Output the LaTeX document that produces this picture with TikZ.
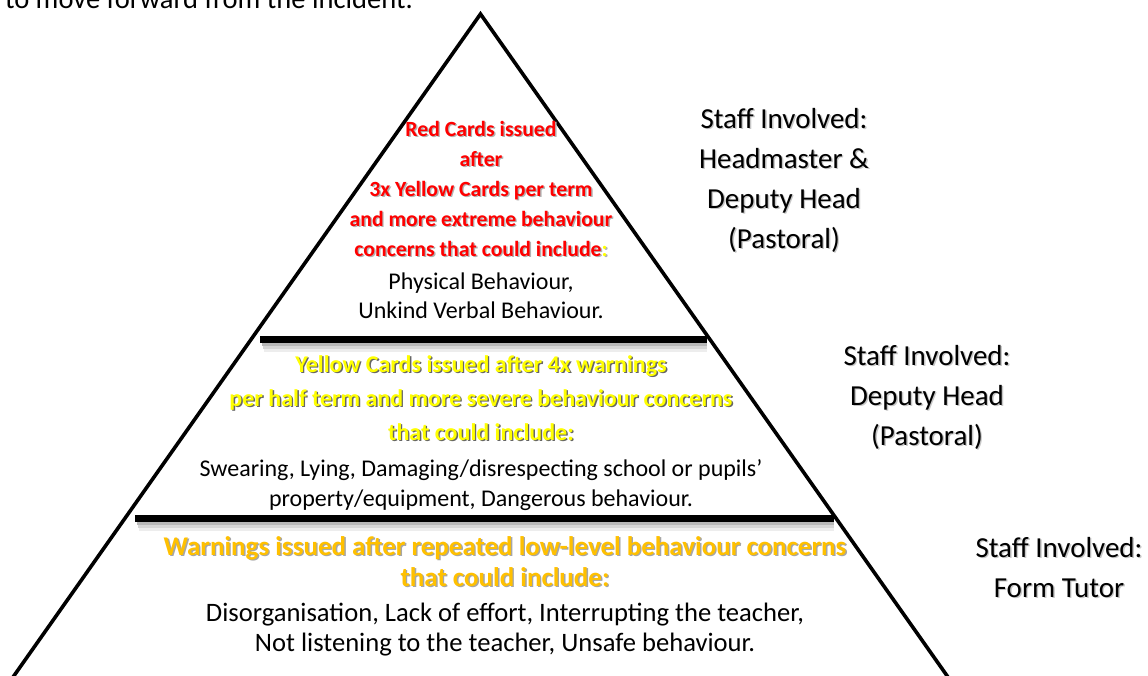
\documentclass[tikz,border=0pt]{standalone}
\usepackage{fontspec}
\setmainfont{Carlito}
\definecolor{cardred}{HTML}{FF0000}
\definecolor{cardyellow}{HTML}{FFFF00}
\definecolor{cardorange}{HTML}{FFC000}
\newcommand\shline[6]{%
  \node[#4, text=#5, xshift=1.4pt, yshift=-1.4pt] (#1s) at (#2,#3) {#6};
  \node[#4] (#1) at (#2,#3) {#6};}
\tikzset{
  ln/.style={inner sep=0pt, anchor=base},
  edge/.style={line width=3.6pt, line join=miter, miter limit=10},
  bar/.style={line width=7pt},
  barshadeA/.style={line width=3pt, draw=black!28},
  barshadeB/.style={line width=3pt, draw=black!16},
  barshadeC/.style={line width=3pt, draw=black!7},
  redb/.style={ln, font=\fontsize{21.7}{26}\selectfont\bfseries, text=cardred},
  yelb/.style={ln, font=\fontsize{24}{28}\selectfont\bfseries, text=cardyellow},
  orab/.style={ln, font=\fontsize{27}{32}\selectfont\bfseries, text=cardorange},
  bodyA/.style={ln, font=\fontsize{24}{28}\selectfont},
  bodyC/.style={ln, font=\fontsize{26.6}{31}\selectfont},
  staff/.style={ln, font=\fontsize{29}{34}\selectfont, text=black},
}
\begin{document}
\begin{tikzpicture}[x=1pt,y=-1pt]
\useasboundingbox (0,0) rectangle (1148,675);
\clip (0,0) rectangle (1148,675);

% cut-off line of the page text above
\node[ln, anchor=base east, font=\fontsize{28.5}{34}\selectfont] (intro) at (413,8) {to move forward from the incident.};

% pyramid
\coordinate (apex) at (480.5,14);
\coordinate (bl) at (1.8,693);
\coordinate (br) at (959.2,693);
\draw[edge] (bl) -- (apex) -- (br);

% dividers with soft shadow
\coordinate (d1l) at (260,339);
\coordinate (d1r) at (707,339);
\coordinate (d2l) at (135,518);
\coordinate (d2r) at (834,518);
\foreach \a/\b in {d1l/d1r, d2l/d2r}{
  \draw[barshadeC] ([xshift=4pt,yshift=-11pt]\a) -- ([yshift=-11pt]\b);
  \draw[barshadeB] ([xshift=3pt,yshift=-8.5pt]\a) -- ([yshift=-8.5pt]\b);
  \draw[barshadeA] ([xshift=2pt,yshift=-5.5pt]\a) -- ([yshift=-5.5pt]\b);
  \draw[bar] (\a) -- (\b);
}

% top tier
\shline{r1}{481}{136}{redb}{black!30}{Red Cards issued}
\shline{r2}{481}{166}{redb}{black!30}{after}
\shline{r3}{481}{196}{redb}{black!30}{3x Yellow Cards per term}
\shline{r4}{481}{226}{redb}{black!30}{and more extreme behaviour}
\node[redb, text=black!30, xshift=1.4pt, yshift=-1.4pt] (r5s) at (481,256) {concerns that could include:};
\node[redb] (r5) at (481,256) {concerns that could include\textcolor{cardyellow}{:}};
\node[bodyA] (t1) at (481,289) {Physical Behaviour,};
\node[bodyA] (t2) at (481,318) {Unkind Verbal Behaviour.};

% middle tier
\shline{y1}{481}{372}{yelb}{black!60}{Yellow Cards issued after 4x warnings}
\shline{y2}{481}{406}{yelb}{black!60}{per half term and more severe behaviour concerns}
\shline{y3}{481}{440}{yelb}{black!60}{that could include:}
\node[bodyA] (m1) at (481,476) {Swearing, Lying, Damaging/disrespecting school or pupils’};
\node[bodyA] (m2) at (481,506) {property/equipment, Dangerous behaviour.};

% bottom tier
\shline{o1}{505}{555}{orab}{black!35}{Warnings issued after repeated low-level behaviour concerns}
\shline{o2}{505}{586}{orab}{black!35}{that could include:}
\node[bodyC] (b1) at (505,621) {Disorganisation, Lack of effort, Interrupting the teacher,};
\node[bodyC] (b2) at (505,651) {Not listening to the teacher, Unsafe behaviour.};

% staff labels
\shline{s1}{784}{128}{staff}{black!22}{Staff Involved:}
\shline{s2}{784}{168}{staff}{black!22}{Headmaster \&}
\shline{s3}{784}{208}{staff}{black!22}{Deputy Head}
\shline{s4}{784}{248}{staff}{black!22}{(Pastoral)}
\shline{s5}{927}{365}{staff}{black!22}{Staff Involved:}
\shline{s6}{927}{405}{staff}{black!22}{Deputy Head}
\shline{s7}{927}{445}{staff}{black!22}{(Pastoral)}
\shline{s8}{1059}{557}{staff}{black!22}{Staff Involved:}
\shline{s9}{1059}{597}{staff}{black!22}{Form Tutor}
\end{tikzpicture}
\end{document}
